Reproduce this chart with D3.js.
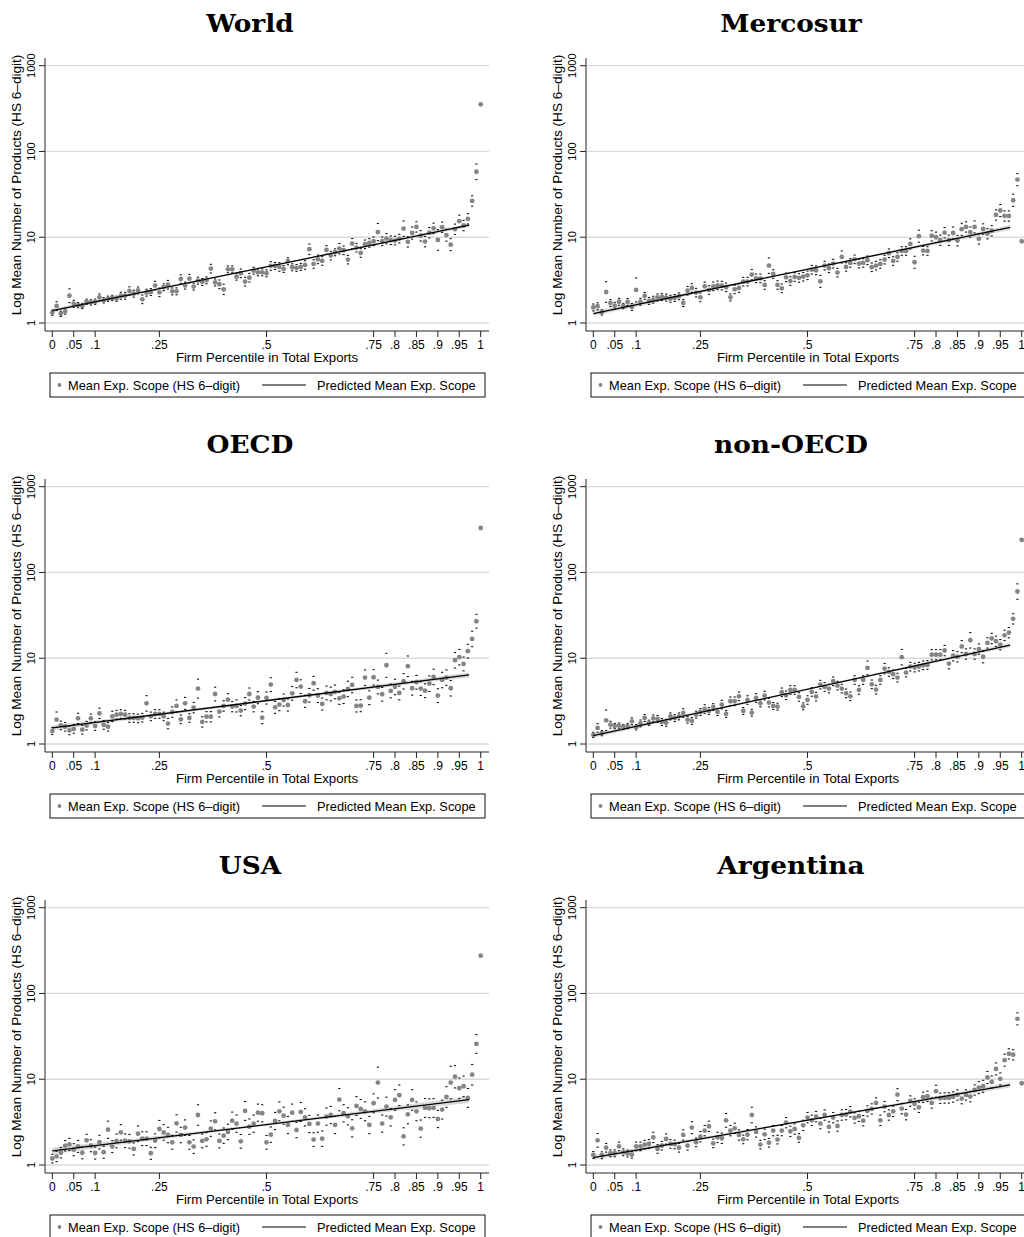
<!DOCTYPE html>
<html>
<head>
<meta charset="utf-8">
<script src="https://cdn.jsdelivr.net/npm/d3@7"></script>
<style>
  body { margin: 0; background: #fff; }
  svg { display: block; }
</style>
</head>
<body>
<svg id="chart" width="1024" height="1237"></svg>
<script>
// Percentile bins of firms ranked by total exports (0, .01, ..., 1)
const percentiles = d3.range(101).map(i => i / 100);

const xTicks = [0, 0.05, 0.1, 0.25, 0.5, 0.75, 0.8, 0.85, 0.9, 0.95, 1];
const xTickLabels = ["0", ".05", ".1", ".25", ".5", ".75", ".8", ".85", ".9", ".95", "1"];
const yTicks = [1, 10, 100, 1000];
const yTickLabels = ["1", "10", "100", "1000"];

const panelTitles = ["World", "Mercosur", "OECD", "non-OECD", "USA", "Argentina"];

// Mean export scope (number of HS 6-digit products) by percentile
const worldMean = [1.32,1.58,1.28,1.36,2.08,1.68,1.62,1.58,1.77,1.74,
  1.77,1.99,1.84,1.92,1.96,1.92,2.08,2.08,2.36,2.20,
  2.40,1.89,2.26,2.30,2.73,2.28,2.61,2.80,2.34,2.34,
  3.26,2.73,3.29,2.66,3.12,3.01,3.15,4.31,2.98,2.83,
  2.47,4.23,4.23,3.47,3.80,3.04,3.38,4.08,3.90,3.90,
  3.80,4.63,4.63,4.51,4.27,5.25,4.47,4.39,4.51,4.75,
  7.25,4.88,5.53,5.29,7.11,6.11,6.68,7.37,7.05,5.49,
  8.43,7.57,6.56,8.28,8.59,8.98,11.5,8.98,9.64,9.23,
  9.15,9.64,12.6,8.83,11.2,13.2,10.4,8.9,11.3,12.7,
  9.3,13.1,10.6,8.2,12.4,15.4,13.7,16.4,26.5,58,
  355];
const mercosurMean = [1.52,1.57,1.33,2.30,1.71,1.59,1.77,1.58,1.76,1.54,
  2.43,1.77,2.07,1.81,1.87,1.99,2.01,1.98,1.92,1.96,
  2.05,1.71,2.38,2.56,2.26,1.99,2.68,2.43,2.68,2.75,
  2.73,2.61,1.99,2.47,2.56,3.04,3.04,3.67,3.32,3.32,
  2.78,4.67,3.73,2.78,2.54,3.41,3.09,3.44,3.36,3.47,
  3.60,4.19,4.12,3.06,4.67,4.35,4.93,3.87,5.89,4.51,
  5.02,5.53,4.93,5.02,5.39,4.47,4.67,4.88,5.49,6.51,
  5.29,5.89,6.92,6.92,8.36,5.11,10.3,6.99,6.92,10.4,
  10.0,9.23,11.3,9.23,11.2,9.15,12.4,13.2,11.5,13.2,
  9.57,12.5,11.0,11.9,18.2,20.5,17.7,17.7,27.0,47,
  8.98];
const oecdMean = [1.42,1.92,1.65,1.59,1.44,1.50,1.99,1.47,1.64,1.99,
  1.62,2.28,1.67,1.59,2.10,2.20,2.24,2.20,2.01,2.01,
  1.99,2.03,2.98,2.10,2.24,2.24,2.10,1.73,2.36,2.78,
  1.94,2.98,2.01,2.66,4.43,1.81,2.08,2.08,3.83,2.38,
  2.78,3.29,2.73,2.78,2.45,2.96,3.83,2.73,3.47,2.03,
  3.44,4.93,2.68,2.88,3.26,2.85,3.90,5.58,4.67,3.15,
  3.70,5.11,3.67,2.93,3.94,3.83,4.05,3.41,3.57,4.39,
  4.88,2.78,2.80,5.95,3.47,6.0,4.63,3.80,8.28,4.16,
  4.63,3.94,5.39,8.07,4.47,5.25,4.43,4.19,5.06,6.06,
  3.67,5.58,5.95,4.47,9.48,10.3,8.59,12.1,16.8,27,
  330];
const nonOecdMean = [1.28,1.54,1.34,1.89,1.68,1.62,1.64,1.58,1.62,1.84,
  1.57,1.74,2.01,1.77,1.99,1.96,1.81,1.77,2.10,2.01,
  2.10,2.30,1.92,1.86,2.20,2.36,2.56,2.43,2.70,2.36,
  2.88,2.24,3.15,3.15,3.60,2.43,3.26,2.32,3.44,2.98,
  3.67,3.04,2.78,2.73,4.01,3.70,4.27,4.27,3.54,2.75,
  3.26,4.05,3.57,4.93,4.63,4.43,5.39,4.80,4.43,3.90,
  3.60,5.58,4.27,5.58,7.71,4.97,4.31,5.58,7.57,6.92,
  6.51,5.95,10.3,6.80,7.99,7.79,7.99,8.28,8.36,11.0,
  11.0,11.0,12.3,8.66,10.7,10.4,13.7,11.2,16.2,11.2,
  12.8,10.4,15.1,17.0,15.8,14.4,18.5,19.9,28.8,60,
  240];
const usaMean = [1.19,1.26,1.39,1.68,1.74,1.51,1.65,1.39,1.94,1.68,
  1.38,1.85,1.41,2.58,1.64,1.91,2.40,1.92,1.89,1.54,
  2.32,2.03,2.03,1.37,1.92,2.63,2.40,2.24,1.84,3.06,
  2.24,2.73,1.84,1.64,3.83,1.91,1.99,2.66,3.23,1.91,
  2.20,2.43,3.29,3.04,1.89,4.27,2.80,3.04,4.08,4.01,
  1.84,2.26,3.26,4.23,3.76,2.93,4.08,2.56,4.16,3.60,
  3.01,1.98,3.04,2.03,3.67,3.83,2.93,5.79,4.01,3.70,
  2.68,4.88,4.51,4.23,2.93,5.25,9.15,3.04,4.80,3.60,
  5.74,6.51,2.16,3.90,5.74,4.23,2.66,4.63,4.59,4.63,
  3.44,4.43,6.22,9.15,10.7,7.85,8.28,6.06,11.3,25.8,
  276];
const argentinaMean = [1.31,1.94,1.30,1.59,1.37,1.37,1.65,1.41,1.36,1.32,
  1.65,1.65,1.73,1.77,2.10,1.54,1.68,2.01,1.76,1.74,
  1.59,2.24,1.68,2.73,1.84,2.14,2.52,2.83,1.79,2.10,
  2.05,3.32,2.52,2.68,2.24,1.99,2.26,3.83,2.43,1.73,
  2.28,1.82,2.52,1.98,2.52,3.12,2.47,2.63,2.07,2.90,
  3.57,3.32,3.67,3.04,3.83,2.78,3.57,2.85,3.83,3.87,
  4.19,3.54,3.70,3.29,4.27,4.51,5.29,3.32,4.80,3.83,
  4.23,6.62,4.55,3.87,5.58,5.16,4.71,6.17,6.33,5.29,
  7.25,6.0,6.06,6.06,6.22,6.56,5.95,6.56,6.28,7.5,
  7.99,8.28,10.5,9.31,13.2,10.1,16.7,19.8,19.3,50.6,
  8.98];

// Confidence interval half-widths of the means, in log10 units
const worldCI = [.03,.05,.03,.03,.08,.04,.03,.03,.03,.03,
  .03,.04,.03,.03,.03,.03,.04,.04,.05,.04,
  .04,.05,.04,.04,.05,.05,.04,.05,.04,.04,
  .05,.04,.05,.04,.04,.04,.04,.05,.04,.05,
  .06,.04,.04,.04,.05,.05,.05,.04,.04,.04,
  .04,.05,.04,.05,.04,.04,.04,.04,.04,.05,
  .06,.05,.05,.05,.05,.05,.04,.06,.05,.05,
  .06,.05,.05,.05,.05,.05,.10,.05,.06,.05,
  .05,.05,.09,.06,.07,.06,.06,.06,.06,.06,
  .12,.06,.07,.07,.06,.07,.06,.06,.06,.09,
  0];
const mercosurCI = [.04,.04,.03,.12,.04,.04,.04,.03,.04,.04,
  .14,.04,.04,.04,.04,.04,.04,.04,.04,.04,
  .04,.04,.05,.05,.05,.05,.05,.05,.05,.05,
  .05,.05,.04,.05,.05,.05,.05,.06,.05,.05,
  .05,.09,.05,.05,.05,.05,.05,.05,.05,.05,
  .05,.05,.05,.07,.05,.05,.05,.05,.07,.05,
  .05,.05,.05,.05,.05,.05,.05,.05,.05,.05,
  .05,.05,.05,.05,.06,.07,.07,.05,.05,.06,
  .06,.06,.06,.06,.07,.06,.07,.06,.06,.07,
  .06,.06,.06,.06,.06,.07,.06,.06,.07,.07,
  0];
const oecdCI = [.04,.09,.05,.05,.05,.05,.06,.05,.05,.05,
  .05,.06,.05,.05,.06,.05,.05,.05,.05,.05,
  .05,.05,.09,.05,.05,.05,.05,.06,.06,.07,
  .05,.07,.05,.06,.11,.06,.06,.06,.08,.06,
  .06,.07,.06,.07,.06,.07,.07,.06,.07,.07,
  .07,.08,.07,.07,.07,.07,.08,.09,.08,.07,
  .08,.08,.08,.07,.08,.08,.08,.07,.08,.09,
  .09,.07,.07,.09,.08,.09,.08,.08,.14,.08,
  .09,.08,.09,.12,.08,.08,.08,.08,.09,.09,
  .08,.09,.09,.09,.09,.09,.08,.08,.09,.08,
  0];
const nonOecdCI = [.03,.05,.03,.12,.04,.03,.03,.03,.03,.04,
  .03,.04,.04,.03,.04,.04,.04,.04,.04,.04,
  .04,.05,.04,.04,.04,.04,.05,.04,.04,.04,
  .05,.04,.05,.05,.05,.04,.05,.04,.05,.04,
  .05,.05,.04,.04,.05,.05,.05,.05,.05,.04,
  .05,.05,.05,.05,.05,.05,.05,.05,.05,.05,
  .05,.05,.05,.05,.08,.05,.05,.05,.06,.05,
  .05,.05,.09,.05,.05,.05,.05,.05,.05,.06,
  .06,.06,.06,.06,.06,.06,.07,.06,.09,.06,
  .06,.07,.06,.06,.06,.06,.06,.06,.06,.09,
  0];
const usaCI = [.05,.06,.06,.06,.07,.07,.07,.07,.07,.07,
  .07,.08,.07,.10,.07,.08,.09,.08,.08,.07,
  .09,.08,.08,.07,.08,.10,.09,.09,.08,.10,
  .09,.09,.08,.08,.12,.08,.08,.09,.10,.08,
  .09,.09,.10,.10,.08,.11,.09,.10,.10,.10,
  .08,.09,.10,.11,.10,.10,.10,.09,.11,.10,
  .10,.08,.10,.09,.10,.10,.10,.13,.10,.10,
  .10,.11,.11,.11,.10,.11,.18,.10,.11,.10,
  .12,.12,.10,.11,.12,.11,.10,.11,.11,.11,
  .10,.11,.12,.19,.13,.12,.12,.11,.12,.11,
  0];
const argentinaCI = [.04,.08,.04,.05,.04,.04,.05,.04,.04,.04,
  .05,.05,.05,.05,.06,.05,.05,.06,.05,.05,
  .05,.06,.05,.07,.05,.06,.06,.06,.05,.06,
  .06,.08,.06,.06,.06,.05,.06,.09,.06,.05,
  .06,.05,.06,.05,.06,.06,.06,.06,.05,.06,
  .06,.06,.06,.06,.06,.06,.06,.06,.06,.06,
  .06,.06,.06,.06,.06,.06,.06,.06,.06,.06,
  .06,.07,.06,.06,.06,.06,.06,.06,.06,.06,
  .07,.06,.06,.06,.06,.06,.06,.06,.06,.06,
  .07,.07,.07,.07,.07,.07,.07,.06,.06,.07,
  0];

// Predicted mean export scope: fitted values at the ends of the fit range
const predX = [0, 0.973];
const worldPred = [1.39, 13.8];
const mercosurPred = [1.29, 13.0];
const oecdPred = [1.54, 6.4];
const nonOecdPred = [1.25, 14.2];
const usaPred = [1.46, 5.8];
const argentinaPred = [1.22, 8.6];

// Half-width of the prediction band (log10) at start, middle and end of the fit
const worldBand = [0.022, 0.008, 0.022];
const mercosurBand = [0.03, 0.01, 0.03];
const oecdBand = [0.03, 0.012, 0.03];
const nonOecdBand = [0.025, 0.009, 0.025];
const usaBand = [0.04, 0.015, 0.04];
const argentinaBand = [0.03, 0.01, 0.03];

const panels = [
  { title: panelTitles[0], mean: worldMean, ci: worldCI, pred: worldPred, band: worldBand },
  { title: panelTitles[1], mean: mercosurMean, ci: mercosurCI, pred: mercosurPred, band: mercosurBand },
  { title: panelTitles[2], mean: oecdMean, ci: oecdCI, pred: oecdPred, band: oecdBand },
  { title: panelTitles[3], mean: nonOecdMean, ci: nonOecdCI, pred: nonOecdPred, band: nonOecdBand },
  { title: panelTitles[4], mean: usaMean, ci: usaCI, pred: usaPred, band: usaBand },
  { title: panelTitles[5], mean: argentinaMean, ci: argentinaCI, pred: argentinaPred, band: argentinaBand }
];

// ---- layout ----
const colX = [0, 541];
const rowY = [0, 421, 842];
const frame = { left: 45, right: 489, top: 58, bottom: 331 };
const sans = "'Liberation Sans', Arial, Helvetica, sans-serif";
const serif = "'DejaVu Serif', 'Liberation Serif', serif";

const x = d3.scaleLinear().domain([0, 1]).range([52.3, 480.7]);
const y = d3.scaleLog().domain([1, 1000]).range([323, 65.7]);

const svg = d3.select("#chart");

panels.forEach((p, k) => {
  const g = svg.append("g")
    .attr("transform", `translate(${colX[k % 2]},${rowY[Math.floor(k / 2)]})`);

  // title
  g.append("text")
    .attr("transform", "translate(250,31.5) scale(1.1,1)")
    .attr("text-anchor", "middle")
    .attr("font-family", serif)
    .attr("font-weight", "bold")
    .attr("font-size", 24)
    .attr("fill", "#000")
    .text(p.title);

  // horizontal grid
  g.selectAll("line.grid").data(yTicks).join("line")
    .attr("class", "grid")
    .attr("x1", frame.left + 1).attr("x2", frame.right)
    .attr("y1", d => y(d)).attr("y2", d => y(d))
    .attr("stroke", "#d9d9d9").attr("stroke-width", 1.3);

  // prediction band (straight fit in log space, widened at the ends)
  const x0 = x(predX[0]), x1 = x(predX[1]);
  const y0 = y(p.pred[0]), y1 = y(p.pred[1]);
  const pxPerDecade = y(1) - y(10);
  const stations = [0, 0.5, 1];
  const bandPts = stations.map((t, j) => ({
    sx: x0 + t * (x1 - x0),
    sy: y0 + t * (y1 - y0),
    w: p.band[j] * pxPerDecade
  }));
  const bandArea = d3.area()
    .x(d => d.sx)
    .y0(d => d.sy + d.w)
    .y1(d => d.sy - d.w)
    .curve(d3.curveNatural);
  g.append("path")
    .datum(bandPts)
    .attr("d", bandArea)
    .attr("fill", "#d4d4d4")
    .attr("opacity", 0.85);

  const pts = percentiles.map((pc, i) => ({ pc, v: p.mean[i], c: p.ci[i] }));

  // confidence interval caps
  const caps = [];
  pts.forEach(d => {
    caps.push({ pc: d.pc, v: d.v * Math.pow(10, d.c) });
    caps.push({ pc: d.pc, v: d.v / Math.pow(10, d.c) });
  });
  g.selectAll("rect.cap").data(caps).join("rect")
    .attr("class", "cap")
    .attr("x", d => x(d.pc) - 1.1)
    .attr("y", d => y(d.v) - 0.5)
    .attr("width", 2.2).attr("height", 1.1)
    .attr("fill", "#111");

  // means
  g.selectAll("circle.mean").data(pts).join("circle")
    .attr("class", "mean")
    .attr("cx", d => x(d.pc))
    .attr("cy", d => y(d.v))
    .attr("r", 2.4)
    .attr("fill", "#858585");

  // predicted line
  const line = d3.line().x(d => x(d[0])).y(d => y(d[1]));
  g.append("path")
    .datum([[predX[0], p.pred[0]], [predX[1], p.pred[1]]])
    .attr("d", line)
    .attr("fill", "none")
    .attr("stroke", "#000")
    .attr("stroke-width", 1.3);

  // axes lines
  g.append("line")
    .attr("x1", frame.left).attr("x2", frame.left)
    .attr("y1", frame.top).attr("y2", frame.bottom)
    .attr("stroke", "#222").attr("stroke-width", 1);
  g.append("line")
    .attr("x1", frame.left).attr("x2", frame.right)
    .attr("y1", frame.bottom).attr("y2", frame.bottom)
    .attr("stroke", "#222").attr("stroke-width", 1);

  // y ticks & labels
  g.selectAll("line.ytick").data(yTicks).join("line")
    .attr("class", "ytick")
    .attr("x1", frame.left - 6).attr("x2", frame.left)
    .attr("y1", d => y(d)).attr("y2", d => y(d))
    .attr("stroke", "#222");
  g.selectAll("text.ylab").data(yTicks).join("text")
    .attr("class", "ylab")
    .attr("transform", d => `translate(35,${y(d)}) rotate(-90)`)
    .attr("text-anchor", "middle")
    .attr("font-family", sans).attr("font-size", 11)
    .attr("fill", "#000")
    .text((d, i) => yTickLabels[i]);

  // x ticks & labels
  g.selectAll("line.xtick").data(xTicks).join("line")
    .attr("class", "xtick")
    .attr("x1", d => x(d)).attr("x2", d => x(d))
    .attr("y1", frame.bottom).attr("y2", frame.bottom + 6)
    .attr("stroke", "#222");
  g.selectAll("text.xlab").data(xTicks).join("text")
    .attr("class", "xlab")
    .attr("x", d => x(d)).attr("y", 348.5)
    .attr("text-anchor", "middle")
    .attr("font-family", sans).attr("font-size", 12)
    .attr("fill", "#000")
    .text((d, i) => xTickLabels[i]);

  // axis titles
  g.append("text")
    .attr("transform", "translate(20.5,185) rotate(-90)")
    .attr("text-anchor", "middle")
    .attr("font-family", sans).attr("font-size", 13.6)
    .attr("fill", "#000")
    .text("Log Mean Number of Products (HS 6\u2013digit)");
  g.append("text")
    .attr("x", 267).attr("y", 361.5)
    .attr("text-anchor", "middle")
    .attr("font-family", sans).attr("font-size", 13.2)
    .attr("fill", "#000")
    .text("Firm Percentile in Total Exports");

  // legend
  const lg = g.append("g");
  lg.append("rect")
    .attr("x", 50).attr("y", 373).attr("width", 435).attr("height", 24)
    .attr("fill", "#fff").attr("stroke", "#111").attr("stroke-width", 1);
  lg.append("circle")
    .attr("cx", 59.5).attr("cy", 385).attr("r", 1.9).attr("fill", "#858585");
  lg.append("text")
    .attr("x", 68).attr("y", 389.5)
    .attr("font-family", sans).attr("font-size", 12.8).attr("fill", "#000")
    .text("Mean Exp. Scope (HS 6\u2013digit)");
  lg.append("line")
    .attr("x1", 262).attr("x2", 306).attr("y1", 385).attr("y2", 385)
    .attr("stroke", "#000").attr("stroke-width", 1.2);
  lg.append("text")
    .attr("x", 317).attr("y", 389.5)
    .attr("font-family", sans).attr("font-size", 12.8).attr("fill", "#000")
    .text("Predicted Mean Exp. Scope");
});
</script>
</body>
</html>
